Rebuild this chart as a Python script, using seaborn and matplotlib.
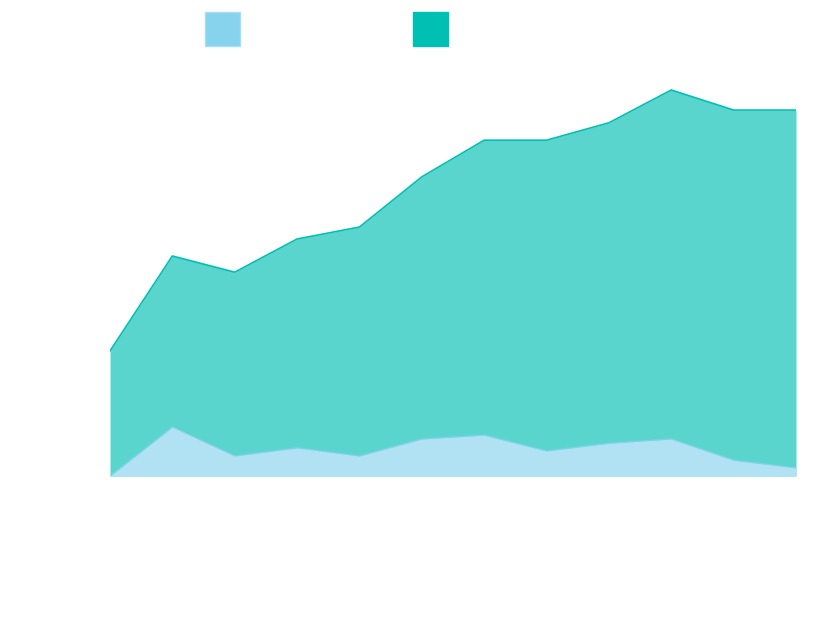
import numpy as np
import pandas as pd
import matplotlib
matplotlib.use("Agg")
import matplotlib.pyplot as plt
import seaborn as sns
from matplotlib.patches import Patch

# values (arbitrary units, top of teal ~100)
periods = list(range(1, 13))
teal_total = [32.4, 57.0, 52.8, 61.4, 64.5, 77.5, 87.0, 87.0, 91.5, 100.0, 94.8, 94.8]
blue_vals = [0.0, 12.7, 5.2, 7.3, 5.2, 9.6, 10.6, 6.5, 8.5, 9.6, 4.1, 2.1]
series_names = ["", ""]

blue_c = "#87D3EE"
teal_c = "#00BFB3"

sns.set_style("white")
df = pd.DataFrame({"period": periods, "teal": teal_total, "blue": blue_vals})

fig = plt.figure(figsize=(8.28, 6.17), dpi=100)
ax = fig.add_axes([110 / 828, (617 - 476) / 617, (796 - 110) / 828, (476 - 60) / 617])

ax.fill_between(df["period"], 0, df["teal"], color=teal_c, alpha=0.65, linewidth=0)
sns.lineplot(data=df, x="period", y="teal", color=teal_c, linewidth=1.2, ax=ax)
# blue area sits over the teal one
ax.fill_between(df["period"], 0, df["blue"], color="#B1E2F4", linewidth=0, zorder=3)
sns.lineplot(data=df, x="period", y="blue", color=blue_c, linewidth=1.0, alpha=0.7, ax=ax, zorder=4)

ax.set_xlim(periods[0], periods[-1])
ax.set_ylim(0, 416 / 3.86)
ax.axis("off")

handles = [Patch(facecolor=blue_c, edgecolor="#A8DEF2", linewidth=1),
           Patch(facecolor=teal_c, edgecolor=teal_c, linewidth=1)]
fig.legend(handles, series_names, loc="upper left",
           bbox_to_anchor=(205 / 828, 1 - 12 / 617), ncol=2, frameon=False,
           fontsize=12, handlelength=2.1, handleheight=2.8, handletextpad=0,
           columnspacing=10.4, borderpad=0, borderaxespad=0)

fig.savefig("out.png", dpi=100)
